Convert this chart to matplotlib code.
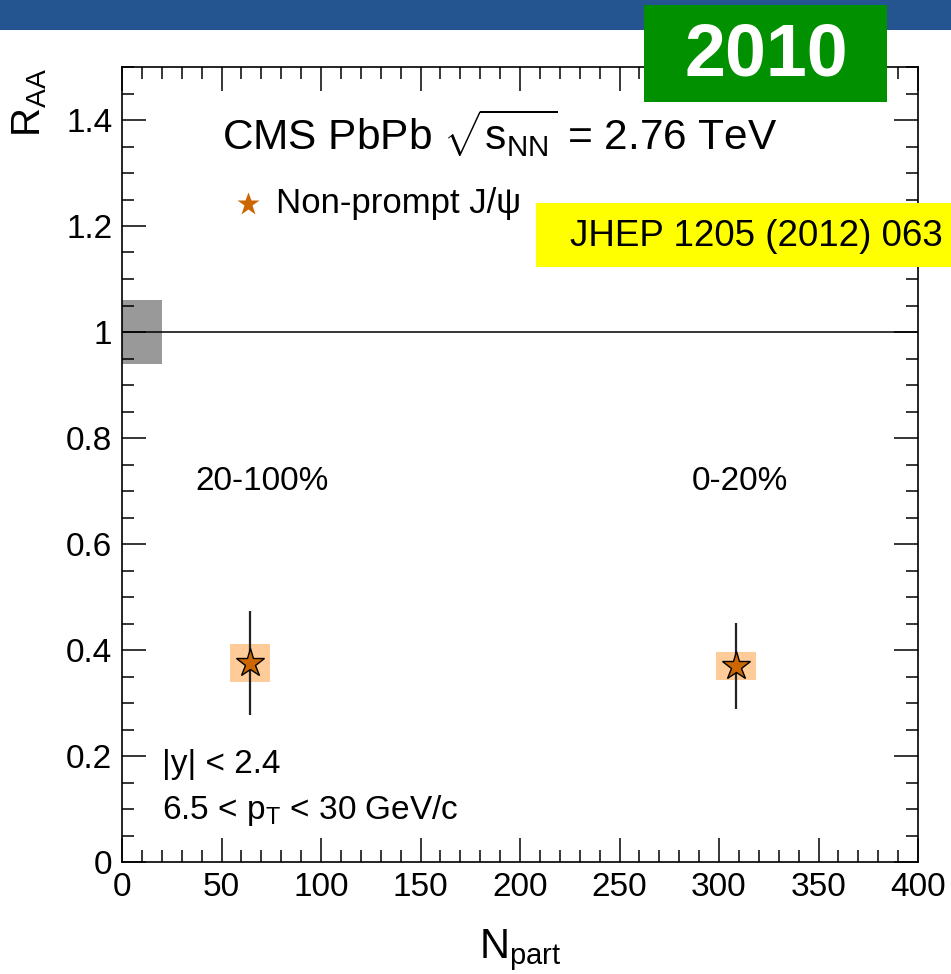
import matplotlib
matplotlib.use("Agg")
import matplotlib.pyplot as plt
from matplotlib.patches import Rectangle
from matplotlib.ticker import MultipleLocator, FuncFormatter

plt.rcParams['font.family'] = ['Liberation Sans', 'DejaVu Sans']
plt.rcParams['mathtext.fontset'] = 'custom'
plt.rcParams['mathtext.rm'] = 'Liberation Sans'
plt.rcParams['mathtext.it'] = 'Liberation Sans'
plt.rcParams['mathtext.bf'] = 'Liberation Sans:bold'
plt.rcParams['mathtext.default'] = 'regular'

# Data
centrality = ['20-100%', '0-20%']
npart = [64.3, 308.6]
raa = [0.375, 0.370]
stat_err = [0.098, 0.081]
syst_err = [0.036, 0.026]
global_unc = 0.06

W, H = 951, 974


def fx(x):
    return x / W


def fy(y):
    return 1 - y / H


fig = plt.figure(figsize=(W / 100, H / 100), dpi=100)
ax = fig.add_axes([fx(122), fy(862), fx(918) - fx(122), fy(67) - fy(862)])

# global uncertainty box and unity line
ax.add_patch(Rectangle((0, 1 - global_unc), 20, 2 * global_unc,
                       facecolor='#999999', edgecolor='none', zorder=1))
ax.axhline(1, color='black', lw=1.1, zorder=2)

# systematic boxes
for x, y, s in zip(npart, raa, syst_err):
    ax.add_patch(Rectangle((x - 10, y - s), 20, 2 * s,
                           facecolor='#FFCC99', edgecolor='none', zorder=2))

ax.errorbar(npart, raa, yerr=stat_err, fmt='none', ecolor='#222222',
            elinewidth=1.6, capsize=0, zorder=3)
ax.plot(npart, raa, ls='none', marker='*', ms=21, mfc='#CC6600',
        mec='black', mew=1.0, zorder=4)

ax.set_xlim(0, 400)
ax.set_ylim(0, 1.5)
ax.xaxis.set_major_locator(MultipleLocator(50))
ax.xaxis.set_minor_locator(MultipleLocator(10))
ax.yaxis.set_major_locator(MultipleLocator(0.2))
ax.yaxis.set_minor_locator(MultipleLocator(0.05))
ax.yaxis.set_major_formatter(FuncFormatter(lambda v, p: '%g' % round(v, 2)))
ax.tick_params(which='both', direction='in', top=True, right=True,
               width=1.1, labelsize=24)
ax.tick_params(which='major', length=17, pad=7)
ax.tick_params(which='minor', length=8.5)
for sp in ax.spines.values():
    sp.set_linewidth(1.2)

# axis titles
fig.text(fx(520), fy(950), r'N$_{part}$', ha='center', va='center', fontsize=30)
fig.text(fx(30), fy(68), r'R$_{AA}$', rotation=90, ha='center', va='top',
         fontsize=29)

# labels inside the plot
fig.text(fx(222), fy(133), r'CMS PbPb $\sqrt{s_{NN}}$ = 2.76 TeV',
         ha='left', va='center', fontsize=30.5)
ax.plot([fx(248)], [fy(204)], transform=fig.transFigure, marker='*', ms=17,
        mfc='#CC6600', mec='none', ls='none', clip_on=False)
fig.text(fx(276), fy(204), 'Non-prompt J/ψ', ha='left', va='center',
         fontsize=25)
fig.text(fx(195), fy(481), centrality[0], ha='left', va='center', fontsize=24)
fig.text(fx(692), fy(481), centrality[1], ha='left', va='center', fontsize=24)
fig.text(fx(162), fy(764), '|y| < 2.4', ha='left', va='center', fontsize=24)
fig.text(fx(162), fy(811), r'6.5 < p$_{T}$ < 30 GeV/c', ha='left',
         va='center', fontsize=24)

# slide decorations
fig.patches.append(Rectangle((0, fy(30)), 1, fy(0) - fy(30),
                             transform=fig.transFigure, facecolor='#245591',
                             edgecolor='none', zorder=5))
fig.patches.append(Rectangle((fx(644), fy(102)), fx(887) - fx(644),
                             fy(5) - fy(102), transform=fig.transFigure,
                             facecolor='#009000', edgecolor='none', zorder=5))
fig.text(fx(766), fy(56), '2010', ha='center', va='center', fontsize=53,
         fontweight='bold', color='white', zorder=6)
fig.patches.append(Rectangle((fx(536), fy(267)), fx(951) - fx(536),
                             fy(203) - fy(267), transform=fig.transFigure,
                             facecolor='#FFFF00', edgecolor='none', zorder=5))
fig.text(fx(570), fy(236), 'JHEP 1205 (2012) 063', ha='left', va='center',
         fontsize=26.5, zorder=6)

fig.savefig('out.png', dpi=100)
